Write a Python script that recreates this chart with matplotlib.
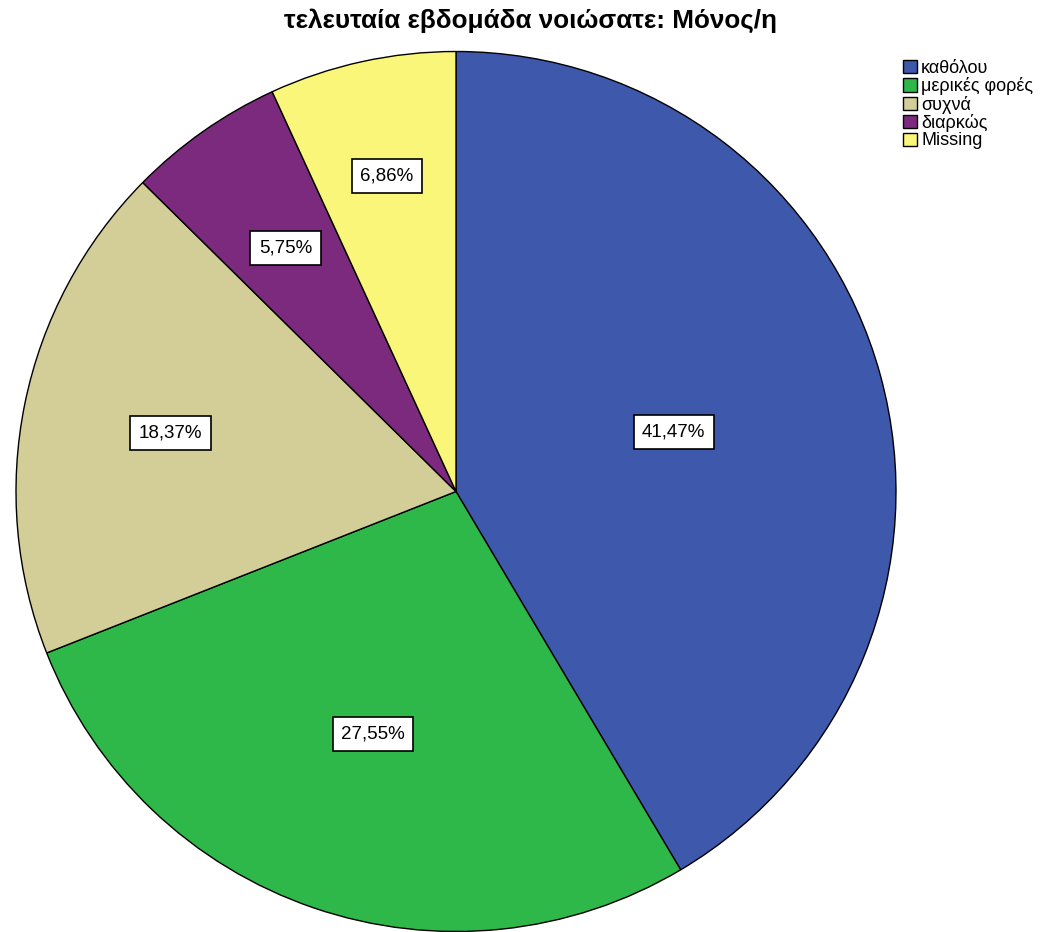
import numpy as np
import matplotlib
matplotlib.use("Agg")
import matplotlib.pyplot as plt
from matplotlib.patches import Patch

plt.rcParams['font.family'] = ['Liberation Sans', 'DejaVu Sans']

title = "τελευταία εβδομάδα νοιώσατε: Μόνος/η"
categories = ["καθόλου", "μερικές φορές", "συχνά", "διαρκώς", "Missing"]
percentages = [41.47, 27.55, 18.37, 5.75, 6.86]
labels = ["41,47%", "27,55%", "18,37%", "5,75%", "6,86%"]
colors = ["#3E58AC", "#2FB84A", "#D3CD97", "#7C2A7E", "#FAF67A"]
label_radii = [0.513, 0.582, 0.662, 0.675, 0.734]

W, H = 1061, 932
fig = plt.figure(figsize=(W / 100, H / 100), dpi=100)
ax = fig.add_axes([0, 0, 1, 1])

cx, cy, R = 456, H - 491.5, 440
wedges, _ = ax.pie(percentages, colors=colors, startangle=90, counterclock=False,
                   center=(cx, cy), radius=R,
                   wedgeprops=dict(edgecolor="black", linewidth=1.0))
ax.set_xlim(0, W)
ax.set_ylim(0, H)
ax.set_aspect('auto')
ax.axis('off')

for w, lab, rf in zip(wedges, labels, label_radii):
    mid = np.deg2rad((w.theta1 + w.theta2) / 2)
    x = cx + rf * R * np.cos(mid)
    y = cy + rf * R * np.sin(mid)
    ax.text(x, y, lab, ha='center', va='center', fontsize=13.5,
            bbox=dict(boxstyle='square,pad=0.45', facecolor='white',
                      edgecolor='black', linewidth=1.2))

fig.text(530 / W, 1 - 21 / H, title, ha='center', va='center',
         fontsize=18.8, fontweight='bold')

handles = [Patch(facecolor=c, edgecolor='black', linewidth=1.0) for c in colors]
fig.legend(handles, categories, loc='upper left',
           bbox_to_anchor=(903 / W, 1 - 60 / H), frameon=False,
           fontsize=13, handlelength=0.75, handleheight=0.75,
           labelspacing=0.02, handletextpad=0.25, borderaxespad=0,
           borderpad=0)

fig.savefig("out.png", dpi=100)
